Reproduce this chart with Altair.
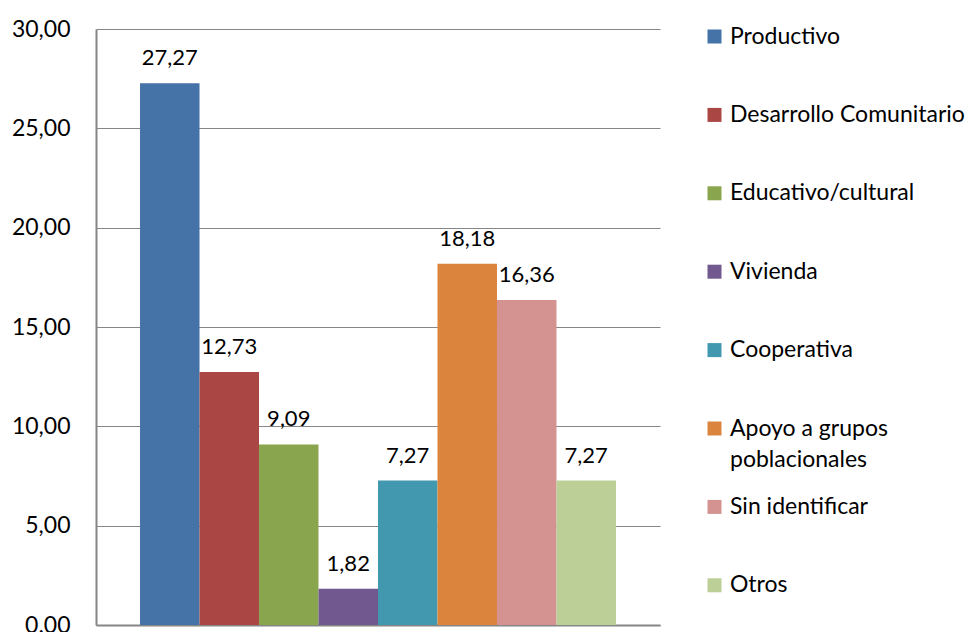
import altair as alt
import pandas as pd

categories = ["Productivo", "Desarrollo Comunitario", "Educativo/cultural", "Vivienda",
              "Cooperativa", "Apoyo a grupos poblacionales", "Sin identificar", "Otros"]
values = [27.27, 12.73, 9.09, 1.82, 7.27, 18.18, 16.36, 7.27]
colors = ["#4572A7", "#AA4643", "#89A54E", "#71588F", "#4198AF", "#DB843D", "#D49290", "#BBCF97"]
y_ticks = [0, 5, 10, 15, 20, 25, 30]

df = pd.DataFrame({"cat": categories, "val": values})

FONT = "Lato"

x = alt.X("cat:N", sort=categories,
          scale=alt.Scale(paddingInner=0, paddingOuter=0.74),
          axis=alt.Axis(labels=False, ticks=False, title=None, domainColor="#868686",
                        domainWidth=2))
y = alt.Y("val:Q", scale=alt.Scale(domain=[0, 30], nice=False),
          axis=alt.Axis(values=y_ticks, title=None, ticks=False, labelPadding=26,
                        labelFontSize=23, labelFont=FONT, labelColor="#000000",
                        domainColor="#868686", domainWidth=2,
                        gridColor="#868686", gridWidth=1,
                        labelExpr="datum.value == 0 ? '0.00' : replace(format(datum.value, '.2f'), '.', ',')"))

color = alt.Color("cat:N", sort=categories,
                  scale=alt.Scale(domain=categories, range=colors),
                  legend=alt.Legend(title=None, orient="none", legendX=607, legendY=-4,
                                    symbolType="square", symbolSize=196, symbolStrokeWidth=0,
                                    labelFont=FONT, labelFontSize=23, labelColor="#000000",
                                    labelOffset=4, labelLimit=300, rowPadding=23.4, padding=0,
                                    labelExpr="datum.label == 'Apoyo a grupos poblacionales' ? ['Apoyo a grupos', 'poblacionales'] : [datum.label, ' ']"))

bars = alt.Chart(df).mark_bar().encode(x=x, y=y, color=color)
labels = alt.Chart(df).mark_text(font=FONT, fontSize=22, baseline="alphabetic", dy=-18,
                                 color="#000000").encode(
    x=alt.X("cat:N", sort=categories),
    y="val:Q",
    text=alt.Text("lbl:N"),
).transform_calculate(lbl="replace(format(datum.val, '.2f'), '.', ',')")

chart = (bars + labels).properties(
    width=564, height=596,
    padding={"left": 96, "top": 29, "right": 310, "bottom": 7},
    autosize=alt.AutoSizeParams(type="none"),
).configure(style={"guide-label": {"lineHeight": 31}}).configure_view(stroke=None).configure_axis(
    grid=False).configure_axisY(grid=True)

chart.save("out.html", embed_options={"renderer": "svg", "actions": False})
